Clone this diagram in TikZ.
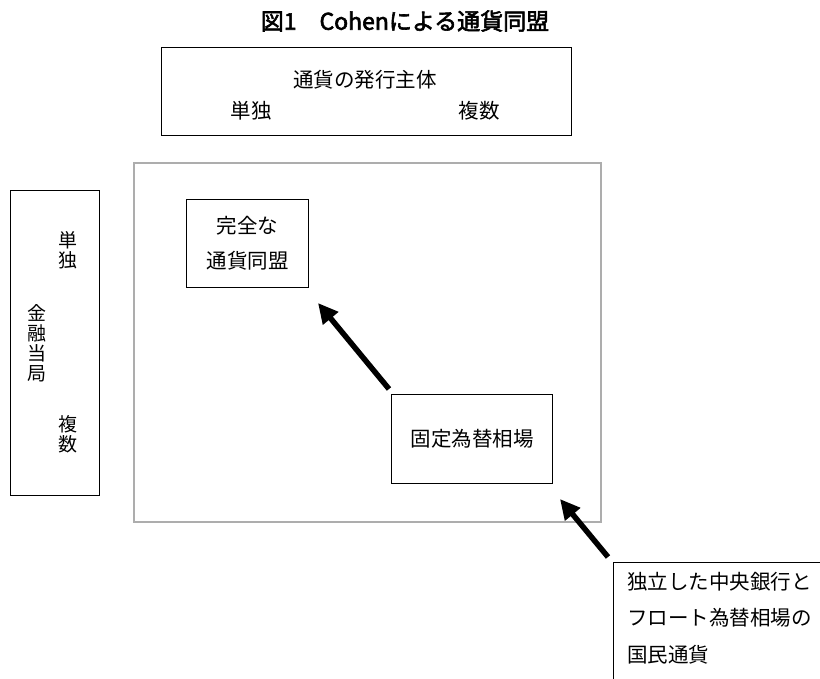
\documentclass[tikz,border=0pt]{standalone}
\usepackage{fontspec}
\setmainfont{Noto Sans CJK JP}
\newfontfamily\titlefont[FakeBold=2.5]{Noto Sans CJK JP}
\usetikzlibrary{arrows.meta}
\tikzset{
  box/.style={draw=black, line width=1pt, inner sep=0pt, anchor=north west},
  txt/.style={font=\fontsize{20.5}{35}\selectfont, inner sep=0pt},
  vtxt/.style={font=\fontsize{19}{20}\selectfont, inner sep=0pt, align=center},
  bigarrow/.style={line width=5.5pt, -{Triangle[length=20pt,width=19pt]}},
}
\begin{document}
\begin{tikzpicture}[x=1pt,y=-1pt]
\clip (0,0) rectangle (820,679);
\fill[white] (0,0) rectangle (820,679);
% title
\node[font=\titlefont\fontsize{23}{26}\selectfont, inner sep=0pt] (title) at (405,21) {図1　Cohenによる通貨同盟};
% top box
\node[box, minimum width=410pt, minimum height=88pt] (top) at (161,47) {};
\node[txt] (issuer) at (365,80) {通貨の発行主体};
\node[txt] (tsingle) at (251,111) {単独};
\node[txt] (tmulti) at (479,111) {複数};
% left box
\node[box, minimum width=89pt, minimum height=305pt] (left) at (10,190) {};
\node[vtxt] (lsingle) at (68,250) {単\\独};
\node[vtxt] (lauth) at (37,343) {金\\融\\当\\局};
\node[vtxt] (lmulti) at (68,434) {複\\数};
% gray frame
\node[draw=black!32, line width=2pt, inner sep=0pt, anchor=north west, minimum width=467pt, minimum height=359pt] (frame) at (133,162) {};
% complete union box
\node[box, minimum width=122pt, minimum height=88pt, align=center, font=\fontsize{20.5}{35}\selectfont] (cu) at (186,199) {完全な\\通貨同盟};
% fixed exchange box
\node[box, minimum width=161pt, minimum height=89pt, font=\fontsize{20.5}{24}\selectfont] (fix) at (391,394) {固定為替相場};
% national currency box (extends beyond picture)
\node[box, minimum width=240pt, minimum height=140pt] (nat) at (613,562) {};
\node[inner sep=0pt, anchor=north west, align=left, font=\fontsize{20.5}{36.5}\selectfont] (nattext) at (627,572) {独立した中央銀行と\\フロート為替相場の\\国民通貨};
% arrows
\draw[bigarrow] ([shift={(-2,-5)}]fix.north west) -- ([shift={(9,15)}]cu.south east);
\draw[bigarrow] ([shift={(-5,-5)}]nat.north west) -- ([shift={(7,15)}]fix.south east);
\end{tikzpicture}
\end{document}
